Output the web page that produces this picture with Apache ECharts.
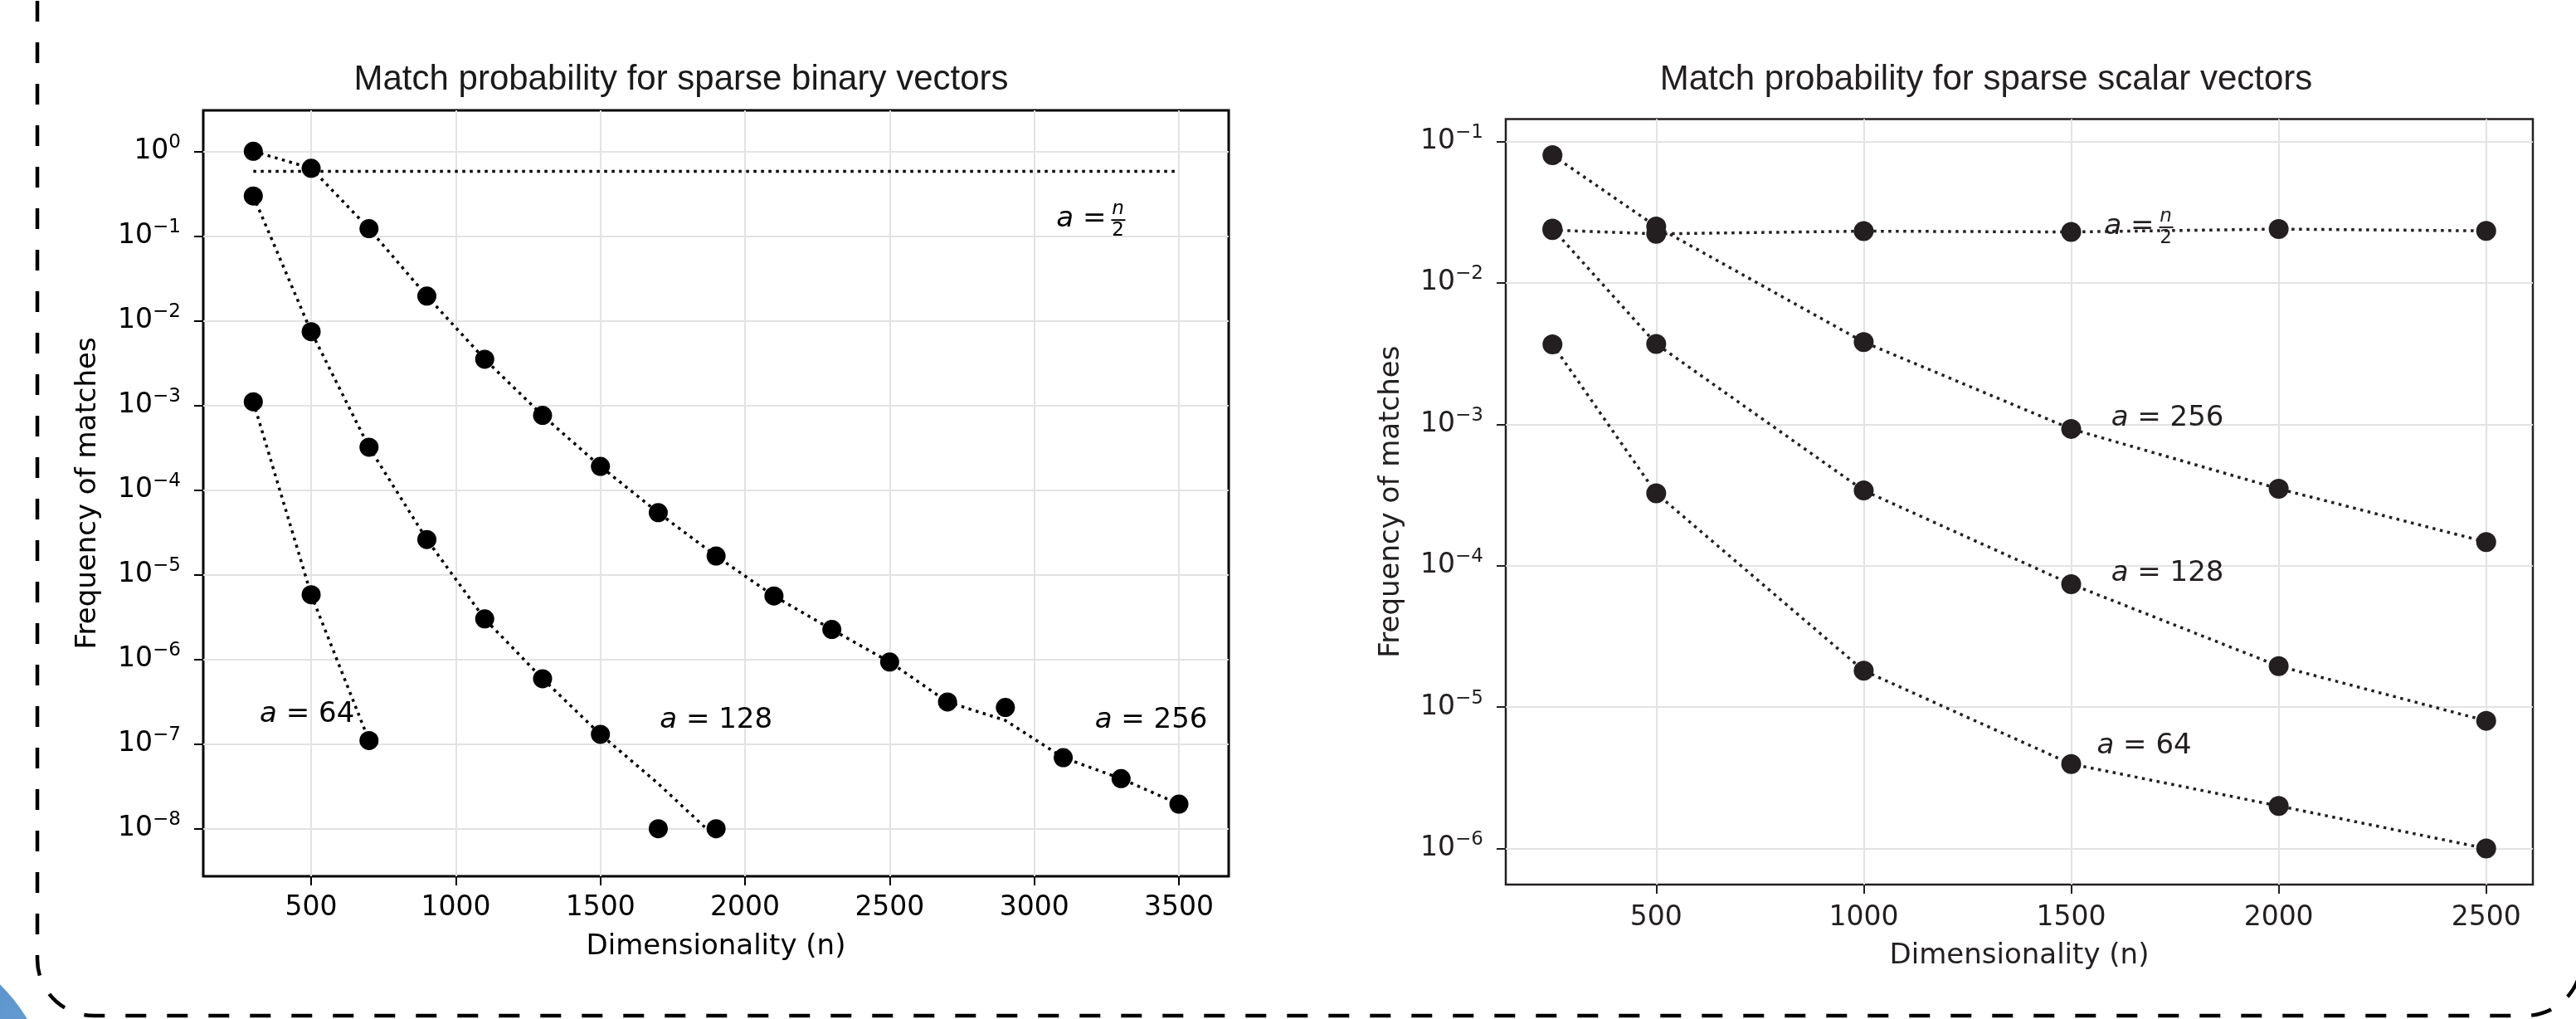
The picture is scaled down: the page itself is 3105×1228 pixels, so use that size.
<!DOCTYPE html>
<html>
<head>
<meta charset="utf-8">
<title>Match probability for sparse vectors</title>
<script src="https://cdn.jsdelivr.net/npm/echarts@6/dist/echarts.min.js"></script>
<style>
html, body { margin: 0; padding: 0; background: #fff; }
#main { width: 3105px; height: 1228px; }
</style>
</head>
<body>
<div id="main"></div>
<script>
// ---- left panel: sparse binary vectors ----
var binX64 = [300, 500, 700];
var binP64 = [1.1e-3, 5.8e-6, 1.1e-7];
var binFit64 = [1.1e-3, 5.8e-6, 1.1e-7];

var binX128 = [300, 500, 700, 900, 1100, 1300, 1500, 1700, 1900];
var binP128 = [0.296, 7.4e-3, 3.2e-4, 2.6e-5, 3.0e-6, 5.9e-7, 1.3e-7, 1e-8, 1e-8];
var binFit128 = [0.296, 7.4e-3, 3.2e-4, 2.6e-5, 3.0e-6, 5.9e-7, 1.3e-7, 3.4e-8, 7.8e-9];

var binX256 = [300, 500, 700, 900, 1100, 1300, 1500, 1700, 1900, 2100, 2300, 2500, 2700, 2900, 3100, 3300, 3500];
var binP256 = [1.0, 0.63, 0.122, 0.0195, 3.5e-3, 7.6e-4, 1.9e-4, 5.4e-5, 1.66e-5, 5.6e-6, 2.25e-6, 9.3e-7, 3.14e-7, 2.7e-7, 6.9e-8, 3.9e-8, 1.95e-8];
var binFit256 = [1.0, 0.63, 0.122, 0.0195, 3.5e-3, 7.6e-4, 1.9e-4, 5.4e-5, 1.66e-5, 5.6e-6, 2.25e-6, 9.3e-7, 3.14e-7, 1.9e-7, 6.9e-8, 3.9e-8, 1.95e-8];

var binHalfX = [300, 3500];
var binHalf = [0.58, 0.58];

var binTicksX = [500, 1000, 1500, 2000, 2500, 3000, 3500];
var binTicksY = [1e-8, 1e-7, 1e-6, 1e-5, 1e-4, 1e-3, 1e-2, 1e-1, 1];
var binXMin = 127, binXMax = 3672;
var binYMin = Math.pow(10, -8.562), binYMax = Math.pow(10, 0.483);

// annotation anchors (data space)
var binLabelText = ['64', '128', '256'];
var binLabelX = [486, 1900, 3404];
var binLabelY = [2.2e-7, 1.9e-7, 1.9e-7];
var binHalfLabel = [3266, 0.154];

// ---- right panel: sparse scalar vectors ----
var sclX = [250, 500, 1000, 1500, 2000, 2500];
var sclHalf = [0.0236, 0.0222, 0.0232, 0.0229, 0.024, 0.0233];
var scl256 = [0.080, 0.025, 3.81e-3, 9.27e-4, 3.5e-4, 1.47e-4];
var scl128 = [0.0242, 3.7e-3, 3.4e-4, 7.4e-5, 1.95e-5, 8.0e-6];
var scl64 = [3.67e-3, 3.25e-4, 1.81e-5, 3.96e-6, 2.0e-6, 1.0e-6];

var sclTicksX = [500, 1000, 1500, 2000, 2500];
var sclTicksY = [1e-6, 1e-5, 1e-4, 1e-3, 1e-2, 1e-1];
var sclXMin = 137.5, sclXMax = 2612.5;
var sclYMin = Math.pow(10, -6.255), sclYMax = Math.pow(10, -0.842);

var sclLabelText = ['256', '128', '64'];
var sclLabelX = [1732, 1732, 1676];
var sclLabelY = [1.1e-3, 8.85e-5, 5.3e-6];
var sclHalfLabel = [1712, 0.0247];

var chart = echarts.init(document.getElementById('main'));

function pairs(xs, ys) {
    return xs.map(function (x, i) { return [x, ys[i]]; });
}

function powLabel(v) {
    var e = Math.round(Math.log10(v));
    return '{b|10}{s|' + (e < 0 ? '\u2212' + (-e) : String(e)) + '}';
}

function dotted(color) {
    return { color: color, width: 3.5, type: [3.5, 5.5], cap: 'butt' };
}

function xAxisOf(grid, min, max, ticks, color, margin, gap) {
    return {
        type: 'value', gridIndex: grid, min: min, max: max,
        name: 'Dimensionality (n)', nameLocation: 'middle', nameGap: gap,
        nameTextStyle: { fontFamily: 'DejaVu Sans', fontSize: 34, color: color },
        axisLine: { show: false },
        axisTick: { show: true, length: 11, customValues: ticks, lineStyle: { color: color, width: 2 } },
        axisLabel: {
            customValues: ticks, margin: margin, fontFamily: 'DejaVu Sans', fontSize: 33, color: color,
            formatter: function (v) { return String(v); }
        },
        splitLine: { show: true, lineStyle: { color: '#e3e3e3', width: 2 } }
    };
}

function yAxisOf(grid, min, max, ticks, color, gap) {
    return {
        type: 'log', logBase: 10, gridIndex: grid, min: min, max: max,
        name: 'Frequency of matches', nameLocation: 'middle', nameGap: gap,
        nameTextStyle: { fontFamily: 'DejaVu Sans', fontSize: 34, color: color },
        axisLine: { show: false },
        axisTick: { show: true, length: 11, customValues: ticks, lineStyle: { color: color, width: 2 } },
        axisLabel: {
            customValues: ticks, margin: 27, formatter: powLabel,
            rich: {
                b: { fontFamily: 'DejaVu Sans', fontSize: 33, lineHeight: 44, color: color },
                s: { fontFamily: 'DejaVu Sans', fontSize: 23, lineHeight: 24, verticalAlign: 'top', color: color }
            }
        },
        splitLine: { show: true, lineStyle: { color: '#e3e3e3', width: 2 } }
    };
}

var ink = '#000';
var ink2 = '#231f20';

var option = {
    animation: false,
    backgroundColor: '#fff',
    title: [
        { text: 'Match probability for sparse binary vectors', left: 821, top: 96, padding: 0,
          textAlign: 'center', textVerticalAlign: 'middle',
          textStyle: { fontFamily: 'Liberation Sans', fontSize: 42, fontWeight: 'normal', color: '#1a1a1a' } },
        { text: 'Match probability for sparse scalar vectors', left: 2394, top: 96, padding: 0,
          textAlign: 'center', textVerticalAlign: 'middle',
          textStyle: { fontFamily: 'Liberation Sans', fontSize: 42, fontWeight: 'normal', color: ink2 } }
    ],
    grid: [
        { left: 245, top: 133, width: 1236, height: 923, show: true, borderColor: ink, borderWidth: 3, backgroundColor: 'transparent' },
        { left: 1815, top: 143.5, width: 1238, height: 922.5, show: true, borderColor: ink2, borderWidth: 2.5, backgroundColor: 'transparent' }
    ],
    xAxis: [
        xAxisOf(0, binXMin, binXMax, binTicksX, ink, 22, 68),
        xAxisOf(1, sclXMin, sclXMax, sclTicksX, ink2, 24, 69)
    ],
    yAxis: [
        yAxisOf(0, binYMin, binYMax, binTicksY, ink, 122),
        yAxisOf(1, sclYMin, sclYMax, sclTicksY, ink2, 121)
    ],
    series: [
        { name: 'a = n/2', type: 'line', xAxisIndex: 0, yAxisIndex: 0, data: pairs(binHalfX, binHalf), showSymbol: false, lineStyle: dotted(ink) },
        { name: 'fit 64', type: 'line', xAxisIndex: 0, yAxisIndex: 0, data: pairs(binX64, binFit64), showSymbol: false, lineStyle: dotted(ink) },
        { name: 'fit 128', type: 'line', xAxisIndex: 0, yAxisIndex: 0, data: pairs(binX128, binFit128), showSymbol: false, lineStyle: dotted(ink) },
        { name: 'fit 256', type: 'line', xAxisIndex: 0, yAxisIndex: 0, data: pairs(binX256, binFit256), showSymbol: false, lineStyle: dotted(ink) },
        { name: 'a = 64', type: 'scatter', xAxisIndex: 0, yAxisIndex: 0, data: pairs(binX64, binP64), symbolSize: 23, itemStyle: { color: ink, opacity: 1 } },
        { name: 'a = 128', type: 'scatter', xAxisIndex: 0, yAxisIndex: 0, data: pairs(binX128, binP128), symbolSize: 23, itemStyle: { color: ink, opacity: 1 } },
        { name: 'a = 256', type: 'scatter', xAxisIndex: 0, yAxisIndex: 0, data: pairs(binX256, binP256), symbolSize: 23, itemStyle: { color: ink, opacity: 1 } },

        { name: 's n/2', type: 'line', xAxisIndex: 1, yAxisIndex: 1, data: pairs(sclX, sclHalf), symbol: 'circle', symbolSize: 24, itemStyle: { color: ink2, opacity: 1 }, lineStyle: dotted(ink2) },
        { name: 's 256', type: 'line', xAxisIndex: 1, yAxisIndex: 1, data: pairs(sclX, scl256), symbol: 'circle', symbolSize: 24, itemStyle: { color: ink2, opacity: 1 }, lineStyle: dotted(ink2) },
        { name: 's 128', type: 'line', xAxisIndex: 1, yAxisIndex: 1, data: pairs(sclX, scl128), symbol: 'circle', symbolSize: 24, itemStyle: { color: ink2, opacity: 1 }, lineStyle: dotted(ink2) },
        { name: 's 64', type: 'line', xAxisIndex: 1, yAxisIndex: 1, data: pairs(sclX, scl64), symbol: 'circle', symbolSize: 24, itemStyle: { color: ink2, opacity: 1 }, lineStyle: dotted(ink2) }
    ]
};
chart.setOption(option);

// annotations placed from data coordinates
var aRich = {
    i: { fontFamily: 'DejaVu Sans', fontStyle: 'italic', fontSize: 34 },
    t: { fontFamily: 'DejaVu Sans', fontSize: 34 }
};

function plainLabel(grid, x, y, num, color) {
    var p = chart.convertToPixel({ gridIndex: grid }, [x, y]);
    return {
        type: 'text', x: p[0], y: p[1], z: 50,
        style: { text: '{i|a}{t| = ' + num + '}', rich: aRich, fill: color, align: 'center', verticalAlign: 'middle' }
    };
}

function halfLabel(grid, x, y, color) {
    var p = chart.convertToPixel({ gridIndex: grid }, [x, y]);
    return {
        type: 'group', x: p[0], y: p[1], z: 50,
        children: [
            { type: 'text', x: -6, y: -1, style: { text: '{i|a}{t| =}', rich: aRich, fill: color, align: 'right', verticalAlign: 'middle' } },
            { type: 'text', x: 8, y: -13, style: { text: 'n', font: 'italic 23px "DejaVu Sans"', fill: color, align: 'center', verticalAlign: 'middle' } },
            { type: 'line', shape: { x1: 0, y1: 0, x2: 17, y2: 0 }, style: { stroke: color, lineWidth: 2 } },
            { type: 'text', x: 8, y: 13, style: { text: '2', font: '23px "DejaVu Sans"', fill: color, align: 'center', verticalAlign: 'middle' } }
        ]
    };
}

var graphics = [
    { type: 'circle', shape: { cx: -141, cy: 1331, r: 202 }, z: 1,
      style: { fill: new echarts.graphic.LinearGradient(0, 0, 1, 1, [{ offset: 0, color: '#3d7bbb' }, { offset: 1, color: '#7cb0e0' }]) } },
    { type: 'rect', shape: { x: 45, y: -300, width: 3067, height: 1524, r: 68 }, z: 2,
      style: { fill: null, stroke: '#000', lineWidth: 4.5, lineDash: [25, 25] } }
];
binLabelText.forEach(function (t, i) { graphics.push(plainLabel(0, binLabelX[i], binLabelY[i], t, ink)); });
sclLabelText.forEach(function (t, i) { graphics.push(plainLabel(1, sclLabelX[i], sclLabelY[i], t, ink2)); });
graphics.push(halfLabel(0, binHalfLabel[0], binHalfLabel[1], ink));
graphics.push(halfLabel(1, sclHalfLabel[0], sclHalfLabel[1], ink2));

chart.setOption({ graphic: graphics });
</script>
</body>
</html>
